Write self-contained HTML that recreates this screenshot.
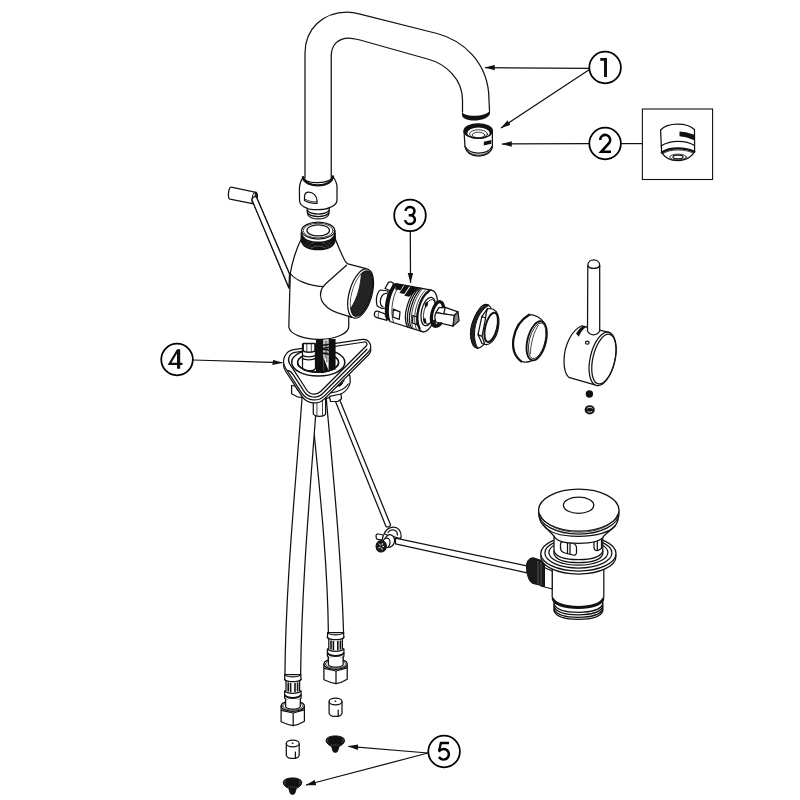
<!DOCTYPE html>
<html>
<head>
<meta charset="utf-8">
<title>Faucet exploded view</title>
<style>
html,body{margin:0;padding:0;background:#fff;font-family:"Liberation Sans",sans-serif;}
svg{display:block;}
.l{fill:none;stroke:#111;stroke-width:1.25;stroke-linecap:round;stroke-linejoin:round;}
.w{fill:#fff;stroke:#111;stroke-width:1.25;stroke-linecap:round;stroke-linejoin:round;}
.t{fill:none;stroke:#111;stroke-width:0.8;stroke-linecap:round;stroke-linejoin:round;}
.k{fill:#111;stroke:none;}
.kk{fill:#111;stroke:#111;stroke-width:1;stroke-linejoin:round;}
.c{fill:#fff;stroke:#000;stroke-width:1.75;}
.d{fill:none;stroke:#000;stroke-width:2.6;stroke-linecap:butt;stroke-linejoin:miter;}
.a{fill:none;stroke:#111;stroke-width:1.25;}
</style>
</head>
<body>
<svg width="800" height="800" viewBox="0 0 800 800">
<defs>
<marker id="ah" markerWidth="11" markerHeight="6" refX="9.8" refY="3" orient="auto" markerUnits="userSpaceOnUse"><path d="M0,0.3 L10.3,3 L0,5.7 Z" fill="#111"/></marker>
</defs>
<rect width="800" height="800" fill="#fff"/>

<!-- ===== SPOUT ===== -->
<g id="spout">
<path class="l" d="M305,178 L305,53 C305,29 323,12 347,12 C351,12 356,13 361,14.3 L437,33.5 C462,40 489,62 489,100 L489.5,111"/>
<path class="l" d="M331.25,181 L331.25,56 C331.25,45 338,38 349,38 C352,38 356,39 360,40 L427.5,59 C447,64 462.5,80 462.5,100 L462.5,112"/>
<path class="k" d="M462,111.5 C464,118 488,117 490,110 L490,113.5 C488,122 464,123 462,115.5 Z"/>
</g>

<!-- ===== AERATOR ===== -->
<g id="aerator">
<path class="w" d="M464,131 L465,147 C466,152 471,156 478.5,156 C486,156 491.5,152 492.4,147 L492.4,131 Z"/>
<path class="l" d="M465,146.5 C468,151.5 474,153 478.5,153 C484,153 490,151 492.4,146"/>
<path class="t" d="M466,149.5 C469,153.5 474,155 478.5,155 C484,155 489,153 491.5,149"/>
<ellipse class="w" cx="478.2" cy="131" rx="14.2" ry="7.2"/>
<path class="k" fill-rule="evenodd" d="M464,131 A14.2,7.2 0 0 1 492.4,131 A14.2,7.2 0 0 1 464,131 Z M467.3,133.2 A11.2,5.6 0 0 0 489.7,133.2 A11.2,5.6 0 0 0 467.3,133.2 Z"/>
<ellipse class="t" cx="478.5" cy="134" rx="9" ry="4.2"/>
<ellipse class="t" cx="478.5" cy="135" rx="6.3" ry="2.8"/>
<path class="k" d="M483.8,141.8 L491.3,140 L491.3,143.8 L483.8,145.6 Z"/>
</g>

<!-- ===== BOX with aerator detail ===== -->
<g id="box">
<rect x="642.4" y="109" width="70.2" height="70.5" fill="#fff" stroke="#111" stroke-width="1.1"/>
<path class="w" d="M660.6,130 C664,126 670,124 677.5,124 C685,124 691,126 694.5,129.5 L694.6,151.5 C693,155 688,160.5 678,160.7 C668,160.5 663.5,156 661.6,152 Z"/>
<path class="l" d="M661,146 C666,142.5 672,141.3 678,141.3 C684,141.3 690,142.5 694.5,145.5"/>
<path class="l" style="stroke-width:2.3" d="M661.8,152.5 C666,149.5 672,148.3 678,148.3 C684,148.3 690,149.5 694.3,151.8"/>
<path class="t" d="M663,153.5 C667,151 672,150 678,150 C684,150 689,151 693,153"/>
<ellipse class="t" cx="678" cy="157" rx="8.3" ry="2.9"/>
<ellipse class="l" cx="678" cy="157" rx="5" ry="1.8"/>
<path class="k" d="M679.5,131.6 L686,132.2 L694.3,134.8 L694.3,140.3 L686,137.3 L679.5,136.3 Z"/>
<path class="a" d="M621.5,143.6 L642.4,143.6"/>
</g>

<!-- ===== CALLOUTS ===== -->
<g id="callouts">
<path class="a" marker-end="url(#ah)" d="M589,68.3 L485,67.6"/>
<path class="a" marker-end="url(#ah)" d="M589.5,69.5 L501,128"/>
<path class="a" marker-end="url(#ah)" d="M589,143.6 L502,144"/>
<path class="a" marker-end="url(#ah)" d="M410.3,231.5 L410.5,282.8"/>
<path class="a" marker-end="url(#ah)" d="M193,360 L282.3,362.7"/>
<path class="a" marker-end="url(#ah)" d="M428,753 L348.3,746.4"/>
<path class="a" marker-end="url(#ah)" d="M428,753 L306,785"/>
<circle class="c" cx="605.1" cy="67.5" r="15.8"/>
<circle class="c" cx="605.1" cy="143.5" r="15.8"/>
<circle class="c" cx="410" cy="215.4" r="15.8"/>
<circle class="c" cx="177.05" cy="359.5" r="15.8"/>
<circle class="c" cx="444.1" cy="751.5" r="15.8"/>
<!-- 1 -->
<path class="k" d="M600.25,58 L607,58 L607,77 L604,77 L604,60.75 L600.25,60.75 Z"/>
<!-- 2 -->
<path class="d" style="stroke-width:2.5" d="M600.2,139.9 A5,5 0 1 1 609.2,142.9 L601.2,151.8 L611,151.8"/>
<!-- 3 -->
<path class="d" style="stroke-width:2.5" d="M405.5,210.9 A4.5,4.1 0 1 1 410,215.2 M408.7,215.2 L410,215.2 A4.9,4.45 0 1 1 405.1,220.2"/>
<!-- 4 -->
<path class="k" fill-rule="evenodd" d="M177,349.25 L180.2,349.25 L180.2,362.8 L182.5,362.8 L182.5,365 L180.2,365 L180.2,368.75 L177,368.75 L177,365 L167.6,365 Z M177,353.6 L177,362.8 L171.5,362.8 Z"/>
<!-- 5 -->
<path class="d" style="stroke-width:2.4" d="M449,743 L440.9,743 L439.1,750.8"/><path class="d" style="stroke-width:2.4;stroke-linejoin:round" d="M438.6,751.6 Q440.8,749 443.6,749 A5.3,5.3 0 1 1 439,756.95"/>
</g>

<!-- ===== COLLAR (spout base) ===== -->
<g id="collar">
<!-- threaded nipple -->
<path class="w" d="M307,207 L307.3,212 L308.2,215.5 C310,218 314,218.9 318.2,218.9 C322.5,218.9 326.5,218 328.2,215.5 L329.1,212 L329.4,207 Z"/>
<path class="l" d="M307.2,210.5 C310,213.3 314,214 318.2,214 C322.5,214 326.5,213.3 329.2,210.5"/>
<path class="l" d="M307.6,213 C310,215.8 314,216.5 318.2,216.5 C322.5,216.5 326.5,215.8 328.8,213"/>
<!-- collar body -->
<path class="w" d="M303,177.3 C300.5,181 299.4,185 299.4,189 L299.5,200 C299.5,204 303,207 307,208.2 C311,210.3 325,210.3 329.4,207.6 C334,206 337,203 337,200 L337,187 C337,183 335,179.5 333,176.5 C330,184 306,185 303,177.3 Z"/>
<path class="l" style="stroke-width:2.4" d="M303,177.3 C305,188 331,188.5 333,176.5"/>
<!-- D hole -->
<path class="w" d="M304.5,200.5 L304.5,196.5 C304.5,193.3 306.5,192 308.8,192 C313,192 317,196 317,200.5 L317,203.3 C313,203.8 308,202.8 304.5,200.5 Z"/>
<path class="t" d="M305.3,199.3 C309,201.3 313,202.2 316.5,201.8"/>
</g>

<!-- ===== LEVER ===== -->
<g id="lever">
<path class="w" d="M256.3,196.8 L289.5,274 L289,288 L252,200 Z"/>
<path class="w" d="M231.2,187.1 L256.3,192.4 L253.9,203.8 L229.9,199.1 C227.3,198.4 228.4,186.6 231.2,187.1 Z"/>
<ellipse cx="254.7" cy="198.1" rx="2.5" ry="5.8" transform="rotate(12 254.7 198.1)" fill="#222" stroke="#111" stroke-width="1.1"/>
<path d="M252.6,199.5 C252.6,196 253.6,193.5 255,193 C254.5,196 254.5,201 254,203.6 C253,203 252.6,201.5 252.6,199.5 Z" fill="#fff"/>
<path class="w" d="M256.3,196.8 L289.5,274 L289,288 L252,200 C252,198 254,196 256.3,196.8 Z"/>
</g>

<!-- ===== BODY ===== -->
<g id="body">
<path class="w" d="M301.3,239 C297,247 292,262 290.3,273.5 L288.8,327 A30,13 0 0 0 348.75,326 L348.75,316 L352,317.3 L372,290 L366,268.7 L348,263.8 C346.5,263.3 345.5,262 344.5,260 C341,253 338,246 335.3,239 Z"/>
<path class="l" d="M290.3,273.5 C295,280 308,285.5 323,286.6"/>
<path class="l" d="M346.5,265.25 L326,283.5 C321,288 319,293.5 321.5,300 C324,306 330,310 337,312.7 L351.75,317.3"/>
<!-- top threads -->
<path class="w" d="M301.4,231 L301.4,241 C303,247 310,249.6 318.2,249.6 C326.5,249.6 333.5,247 335,241 L335,231 Z"/>
<g class="l" style="stroke-width:1.4">
<path d="M301.4,233.5 C303,240 310,242.3 318.2,242.3 C326.5,242.3 333.5,240 335,233.5"/>
<path d="M301.4,236 C303,242.5 310,244.8 318.2,244.8 C326.5,244.8 333.5,242.5 335,236"/>
<path d="M301.4,238.5 C303,245 310,247.3 318.2,247.3 C326.5,247.3 333.5,245 335,238.5"/>
<path d="M301.4,240.3 C303,246.5 310,248.6 318.2,248.6 C326.5,248.6 333.5,246.5 335,240.3"/>
<path d="M301.4,234.7 C303,241.2 310,243.5 318.2,243.5 C326.5,243.5 333.5,241.2 335,234.7"/>
<path d="M301.4,237.2 C303,243.7 310,246 318.2,246 C326.5,246 333.5,243.7 335,237.2"/>
</g>
<ellipse class="w" cx="318.2" cy="230.6" rx="16.6" ry="8.4"/>
<ellipse class="t" cx="318.2" cy="230.6" rx="15" ry="7.3"/>
<ellipse class="l" cx="318.2" cy="230.4" rx="11.3" ry="5.6"/>
<!-- side port -->
<ellipse class="w" cx="360.6" cy="293.6" rx="11.3" ry="25.4" transform="rotate(16 360.6 293.6)"/>
<clipPath id="portclip"><ellipse cx="361.6" cy="293.6" rx="9.4" ry="23.4" transform="rotate(16 361.6 293.6)"/></clipPath>
<ellipse cx="361.6" cy="293.6" rx="9.4" ry="23.4" transform="rotate(16 361.6 293.6)" fill="#242424" stroke="#111" stroke-width="1.2"/>
<g clip-path="url(#portclip)">
<path d="M361.3,274 C360.8,285 357.5,298 351,308 L344,308 L344,274 Z" fill="#fff" stroke="#111" stroke-width="0.8"/>
</g>
</g>

<!-- ===== CARTRIDGE ===== -->
<g id="cartridge">
<!-- left lobes / pegs -->
<path class="w" d="M385,288.5 L388.3,282.6 C389.5,281.6 392,282.3 393.5,283.3 L391,291 Z"/>
<path class="w" d="M388,291 L380.5,290 C378,291 376.4,296 376.4,300 C376.4,303 376.6,305 377.5,306.3 L382,308.5 L388,308 Z"/>
<path class="l" d="M386.5,293.3 C383,293 380.5,297 380.3,301 C380.2,304 381,306 383,307"/>
<path class="w" d="M374.3,314.6 C374.3,312.5 375.5,311 377.2,311 L385,313.8 L387,320.3 L377.8,317.9 C375.5,317.5 374.3,316.5 374.3,314.6 Z"/>
<path class="t" d="M379.3,311.8 C378,313 377.7,316 378.8,318"/>
<!-- main body -->
<path class="w" d="M396,283.6 L431.5,290.1 L423,331.8 L390,321.5 C384.5,312 388,292 396,283.6 Z"/>
<!-- dark end band -->
<path class="k" d="M394.6,283.3 C386.5,291 382.3,308 386.6,319.3 L390.3,321.6 C386.8,310 390,292.5 398,284 Z"/>
<path class="t" d="M400,284.3 C392.8,293 389.5,311 393.6,322.6"/>
<!-- dark slots on top -->
<path class="k" d="M396.5,283.7 L403.6,285 L400.6,290.3 L395.2,289.5 C395.3,287.5 395.8,285.5 396.5,283.7 Z"/>
<path class="k" d="M404.6,285.2 L409.6,286.1 L404.3,294 L399.3,293 Z"/>
<path class="k" d="M410.6,286.3 L418.3,287.7 L415.5,291.5 L409,296.8 L404.3,295.8 Z"/>
<!-- groove rings -->
<path class="l" d="M417.5,287.6 C409.5,295 401.5,315 407.5,327"/>
<path class="l" d="M419.3,288 C411.5,295 403.5,316 409.5,327.6"/>
<path class="l" d="M421,288.3 C413.5,296 405.5,317 411.5,328.2"/>
<path class="t" d="M422.7,288.6 C415.5,296 407.5,317 413.3,328.8"/>
<!-- squares -->
<path class="l" d="M393.3,309.1 L400,311.8 L399.3,319.3 L392.9,317 Z"/>
<path class="l" d="M412.8,315.5 L417.2,317 L417,324.6 L412.5,323 Z"/>
<!-- flange -->
<ellipse class="w" cx="427.3" cy="311" rx="9.3" ry="21.2" transform="rotate(13 427.3 311)"/>
<path class="l" style="stroke-width:2.2" d="M428.8,291.3 C420,297 414,317 419.6,328.5"/>
<path class="t" d="M425.5,290.2 C417,297 411.5,318 416.5,329.5"/>
<ellipse class="l" cx="428.3" cy="311.5" rx="6.8" ry="14.5" transform="rotate(13 428.3 311.5)"/>
<ellipse class="t" cx="429.6" cy="311.8" rx="5.6" ry="12.5" transform="rotate(13 429.6 311.8)"/>
<path class="k" d="M424.5,304 L427.5,301 L428,305 L425.5,308 Z"/>
<path class="k" d="M422.8,319 L425.5,318 L426.5,323 L424,323.5 Z"/>
<!-- stem collar -->
<ellipse cx="437.5" cy="314" rx="5.6" ry="12.6" transform="rotate(13 437.5 314)" fill="#fff" stroke="#111" stroke-width="3.2"/>
<!-- stem -->
<path class="w" d="M438.9,307.6 L445.2,307.4 L458,311.9 L454.3,315.5 L436,312.6 Z"/>
<path class="w" d="M436,312.6 L454.3,315.5 L453.1,326.1 L436,322 C434.6,319 434.6,315.5 436,312.6 Z"/>
<path d="M454.3,315.5 L458,311.9 L459.1,320.9 L453.1,326.1 Z" fill="#888" stroke="#111" stroke-width="1.2" stroke-linejoin="round"/>
<path class="l" d="M445.2,307.4 L443.8,313.8"/>
<path class="l" style="stroke-width:2.4" d="M434.2,321 C434.5,325 436,327.3 438.5,326 C440,325 441,323.8 441.3,323.2"/>
</g>

<!-- ===== NUT ===== -->
<g id="nut">
<ellipse cx="481.8" cy="326.3" rx="9.6" ry="22.4" transform="rotate(14 481.8 326.3)" fill="#fff" stroke="#111" stroke-width="1.2"/>
<path d="M487,304.3 C477,308 468,326 471,339 C472.5,345 475,348 478,348.5 C476,345 474.5,341 474.5,334 C474.5,322 480,310 489,305.3 Z" fill="#222" stroke="#111" stroke-width="1"/>
<path class="w" d="M487.5,308.5 L492.8,309 C497,311 499.3,317 498.8,324 C498,336 492,344.5 486,344.6 L482,343.5 L478,334.6 L481.8,316.6 Z"/>
<path class="l" d="M481.8,316.6 L485.6,318 M478,334.6 L482,336.3 M487.5,308.5 C486.5,311 485.8,315 485.6,318 L482,336.3 L484.5,343.5"/>
<ellipse cx="491.2" cy="327.3" rx="5.9" ry="15" transform="rotate(14 491.2 327.3)" fill="#fff" stroke="#111" stroke-width="2"/>
</g>

<!-- ===== DOME RING ===== -->
<g id="dome">
<path class="w" d="M529.1,314.5 C535,314.5 541,318 543.7,322.6 L532.5,360.4 C528,362.5 524,362.5 521.2,361.4 C509,352 510,327 529.1,314.5 Z"/>
<path class="l" style="stroke-width:2.2" d="M529.1,314.7 C512,325 507.5,351 521.2,361.4"/>
<ellipse cx="536.7" cy="340.8" rx="9.2" ry="20" transform="rotate(14 536.7 340.8)" fill="#fff" stroke="#111" stroke-width="1.9"/>
<ellipse class="t" cx="537.2" cy="340.8" rx="7.8" ry="18.3" transform="rotate(14 537.2 340.8)"/>
<path class="t" d="M538.5,325 C534,331 530.5,344 530.3,354"/>
</g>

<!-- ===== HANDLE ===== -->
<g id="handle">
<path class="w" d="M581.8,325.8 C572,330 564,345 564,361 C564,369 565.5,374.5 568.75,377.4 L597.6,385.7 L610,332.7 Z"/>
<path class="k" d="M576,333.5 C578,330 580.5,327.3 583.3,325.9 L586.3,326.7 C583,329 580.5,332.5 578.8,336.8 Z"/>
<ellipse class="w" cx="602.6" cy="358.9" rx="12.4" ry="27.3" transform="rotate(13 602.6 358.9)"/>
<ellipse class="l" cx="603.9" cy="359.1" rx="11" ry="25.4" transform="rotate(13 603.9 359.1)"/>
<ellipse class="l" cx="587.3" cy="342.7" rx="1.8" ry="1.5"/>
<path class="w" d="M587.5,331 L587.8,265.5 C587.8,258 599.7,258 599.7,265.5 L599.7,331 C597,336 590,336 587.5,331 Z"/>
<path class="l" d="M587.8,265.8 C590,269.2 597.5,269.2 599.7,265.8"/>
<circle class="k" cx="589.4" cy="394" r="3.7"/>
<ellipse class="k" cx="589.7" cy="409.8" rx="5.1" ry="4.6"/>
<path d="M587,408.5 C588,407 591.5,407 592.5,408.5 M587.3,411 C588.5,412.5 591,412.5 592.3,411" fill="none" stroke="#fff" stroke-width="0.8"/>
</g>

<!-- ===== HOSES ===== -->
<g id="hoses">
<path class="w" d="M326.3,398 L326.9,406 C333.9,482 341.3,558 343.6,633.7 L328.4,633.7 C327.7,568 321,502 314.4,436 L311.5,406 Z"/>
<path class="w" d="M302.1,396 L301.9,400 C295.1,490 285.7,585 284.9,675.8 L300.6,675.8 C301.6,590 309.15,502 315.6,416 L316,400 Z"/>
<!-- pull rod -->
<path class="w" d="M334.5,399 L386,526.5 C387.5,527.5 390,526.8 390.6,525 L339.2,398.5 Z"/>
</g>

<!-- ===== BASE / TRIANGLE PLATE ===== -->
<g id="base">
<!-- stud -->
<path class="w" d="M313.3,398 L313.3,414 C315,417 324,417 325.6,414 L325.6,398 Z"/>
<path class="t" d="M316.9,400 L316.9,416 M322.5,400 L322.5,416"/>
<!-- lower washer / nut -->
<path class="w" d="M291.6,385.5 L291.6,393.8 L297.3,396.8 L305,398 L305,388 Z"/>
<path class="w" d="M296,380 C296,372 345,366 350,376 L350.2,382.3 C348,392 338,397.5 324,398.3 C308,398.5 297,392 296,387 Z"/>
<path class="l" d="M348.2,384 C345,389 338,392 330.5,392.8 M344,380.5 C342,383.5 338.5,386 334.9,387.5"/>
<path class="k" d="M338,385.5 C339.5,384.5 341,383.2 342,382 L343,383.5 C342,385 340.5,386.2 339,387 Z"/>
<path class="w" d="M329.5,396.3 L330.5,401.5 L338,401.3 L341.5,398.8 L341,394 Z"/>
<!-- plate -->
<g style="stroke-width:1.35">
<path class="w" d="M285.5,371.0 A12.0,12.0 0 0 1 293.8,352.6 L362.3,342.4 A7.3,7.3 0 0 1 368.6,354.7 L324.7,398.6 A14.8,14.8 0 0 1 301.8,396.2 Z"/>
<path class="w" d="M285.5,368.0 A12.0,12.0 0 0 1 293.8,349.6 L362.3,339.4 A7.3,7.3 0 0 1 368.6,351.7 L324.7,395.6 A14.8,14.8 0 0 1 301.8,393.2 Z"/>
<path class="l" d="M366.9,349.3 L322.7,393.5 A11.9,11.9 0 0 1 304.2,391.6 L293.2,374.6 Q290.6,370.6 287.8,370.6"/>
<path class="w" d="M289.7,363.8 A7.5,7.5 0 0 1 294.9,352.4 L364.5,342.0 A2.2,2.2 0 0 1 366.4,345.7 L320.6,391.5 A9.0,9.0 0 0 1 306.7,390.0 Z"/>
</g>
<!-- cup ring -->
<path class="w" d="M291.7,362.5 C291.7,355 303.5,349 318.2,349 C333,349 344.8,355 344.8,362.5 C344.8,370 333,376 318.2,376 C303.5,376 291.7,370 291.7,362.5 Z" style="stroke-width:1.5"/>
<ellipse class="w" cx="318.1" cy="362.5" rx="20.5" ry="9.6" style="stroke-width:1.5"/>
<!-- stems above -->
<path class="w" d="M302.5,344 L302.5,368.5 C304.5,371.8 313,371.8 315.5,368.5 L315.5,344 Z"/>
<path class="w" d="M303.2,343.5 L303.2,350.7 C305,352.6 313,352.6 315,350.7 L315,343.5 Z" style="stroke-width:1.5"/>
<path class="t" d="M306.8,344 L306.8,352 M311.3,344 L311.3,352"/>
<path class="l" d="M302.5,355.3 C304.5,357.3 313,357.3 315.5,355.3 M302.5,358.3 C304.5,360.3 313,360.3 315.5,358.3"/>
<path class="k" d="M315.9,339 L323.3,339 L323.3,373.2 L315.9,372.6 Z"/>
<path class="k" d="M328.6,339 L335.6,339 L335.6,369.5 L328.6,371.5 Z"/>
<path class="k" d="M323.3,357 L328.6,370.5 L323.3,372.5 Z"/>
<path class="t" d="M325.2,341 L325.2,358 M326.9,341 L326.9,362 M323.5,345 L327.5,345 M323.5,349 L327.5,349 M323.5,353 L327.5,353"/>
<!-- redraw front arcs of cup over the stems -->
<path class="l" style="stroke-width:1.5" d="M297.6,362.5 C297.6,367.8 306.8,372.1 318.1,372.1 C329.4,372.1 338.6,367.8 338.6,362.5"/>
</g>

<!-- ===== HORIZONTAL ROD + CONNECTOR ===== -->
<g id="hrod">
<path class="w" d="M395.5,538.2 L528,566.2 L527,572.8 L395.5,543.8 Z"/>
<!-- connector clip -->
<path class="w" d="M384,534 C386,529.5 389.5,527 393.5,527 C398,527 401.3,531 401.2,536.5 L400.5,538.5 L395,537 L389,535.5 Z"/>
<path class="l" d="M388,532.5 C389.5,530.3 392,529.5 394,530 C396.5,530.8 397.5,533 397.3,535"/>
<path class="w" d="M376,536 C376,534.5 377,533.8 378.2,534 L383.5,535 L382,540 L377.5,539.3 C376.5,539 376,537.5 376,536 Z"/>
<ellipse class="w" cx="389.5" cy="541" rx="5" ry="6.3" transform="rotate(12 389.5 541)"/>
<ellipse class="w" cx="386.3" cy="543" rx="3.6" ry="5" transform="rotate(12 386.3 543)"/>
<ellipse cx="381.2" cy="546.3" rx="5.2" ry="5.8" transform="rotate(12 381.2 546.3)" fill="#1a1a1a" stroke="#111" stroke-width="1"/>
<path d="M379,543.5 L380.5,545.5 M382.5,543 L382,545.3 M378.5,548 L380.5,547.3 M382,549.8 L381.8,547.8 M384,546.5 L382.5,546.5" stroke="#fff" stroke-width="0.9" fill="none"/>
</g>

<!-- ===== DRAIN ===== -->
<g id="drain">
<!-- threads -->
<path class="w" d="M554,598 L554,611 C556,616.5 566,619.3 578.4,619.3 C591,619.3 601,616.5 602.8,611 L602.8,598 Z"/>
<g class="l" style="stroke-width:1.3">
<path d="M554,604 C556,609.5 566,612.3 578.4,612.3 C591,612.3 601,609.5 602.8,604"/>
<path d="M554,606.5 C556,612 566,614.8 578.4,614.8 C591,614.8 601,612 602.8,606.5"/>
<path d="M554,609 C556,614.5 566,617.3 578.4,617.3 C591,617.3 601,614.5 602.8,609"/>
</g>
<!-- body -->
<path class="w" d="M552.2,565 L552.2,597 C554,603.5 566,606.5 578.4,606.5 C591,606.5 602,603.5 603.8,597 L603.8,565 Z"/>
<path class="l" style="stroke-width:2.6" d="M553,599.3 C555.5,605 566,607.6 578.4,607.6 C591,607.6 600.5,605 603,599.3"/>
<!-- side port -->
<path class="w" d="M541,566 L552.2,571 L552.2,589 L541,586 Z"/>
<path d="M526.5,566 C526.5,560.5 530,557.5 533.5,557.8 L544.5,561.5 L544.5,586.3 L533,583.5 C529,582.5 526.5,574 526.5,566 Z" fill="#1a1a1a" stroke="#111" stroke-width="1"/>
<path d="M541,562 L541,585 M538,561 L538,584.3" stroke="#777" stroke-width="0.7" fill="none"/>
<!-- flange -->
<ellipse class="w" cx="578.4" cy="556.5" rx="37.6" ry="17.5"/>
<ellipse class="w" cx="578.4" cy="553.5" rx="37.6" ry="17.5"/>
<ellipse class="l" cx="578.4" cy="553" rx="33.5" ry="15"/>
<ellipse class="l" cx="578.4" cy="552.5" rx="29.5" ry="12.7"/>
<!-- neck -->
<path class="w" d="M554,535 L554,554 C556,560 566,562.6 578.4,562.6 C591,562.6 601,560 602.8,554 L602.8,535 Z"/>
<path class="l" d="M554,551 C556,557 566,559.6 578.4,559.6 C591,559.6 601,557 602.8,551"/>
<path class="l" d="M560.5,544.5 C560.5,542 562.5,541 564.5,541.5 L573,543.5 C575.5,544.2 576.5,546 576.5,548 L576.5,552.5 C576.5,554.5 575,555.5 573,555 L565,553 C562,552.3 560.5,550 560.5,547.5 Z"/>
<path class="l" d="M567.5,542.5 L567.5,553.6 M570,543 L570,554.2"/>
<path class="l" d="M594,543.5 C594,541 595.5,539.5 597.5,539 L601.5,538 L601.5,548.5 L598,550.5 C595.5,551 594,549.5 594,547.5 Z"/>
<path class="l" d="M597.3,539.3 L597.3,550.3"/>
<!-- cap -->
<path class="w" d="M539,514 C539,518 540,522 542.8,524.5 L554,536 C556,541.5 566,543.3 578.4,543.3 C591,543.3 601,541.5 603.75,536 L615,526 C618,522 618.8,518 618.8,514 Z"/>
<path class="l" d="M542.8,524.5 C548,532.5 562,536.3 578.4,536.3 C595,536.3 610,532.5 615,526"/>
<ellipse class="w" cx="578.8" cy="513" rx="40.2" ry="21"/>
<ellipse class="w" cx="578.8" cy="510.2" rx="40.2" ry="21"/>
<path class="t" d="M540,514.5 C545,526 561,532.2 578.8,532.2 C597,532.2 613,526 617.6,514.5"/>
<ellipse class="l" cx="578.6" cy="505.3" rx="15.2" ry="8.1"/>
</g>

<!-- ===== HOSE ENDS ===== -->
<defs>
<g id="hend">
<!-- crimp -->
<path class="w" d="M284.9,674.5 L284.6,679.5 L286,681 L286,690.5 L284.6,691.5 L284.6,698 L285.6,699.5 L285.6,707 C288,710 298,710 300.3,707 L300.3,699.5 L301.1,698 L301.1,691.5 L299.6,690.5 L299.6,681 L301.1,679.5 L300.7,674.5 Z"/>
<path class="l" d="M284.9,674.5 C287,677.8 298.5,677.8 300.7,674.5 M284.7,679.3 C287,682.5 298.5,682.5 301,679.3 M284.7,691 C287,694 298.5,694 301,691"/>
<path class="l" style="stroke-width:2" d="M285,695.3 C287,698.8 298.5,698.8 300.7,695.3"/>
<path class="t" d="M285.6,698.7 C288,701.5 298,701.5 300.3,698.7"/>
<path d="M288.2,682.5 L288.2,691.5 M290.6,683 L290.6,692.3 M295,683 L295,692.3 M297.6,682.5 L297.6,691.5" stroke="#111" stroke-width="1.6" fill="none"/>
<!-- nut -->
<path class="w" d="M281.1,706 L281.1,721.7 C285,723.5 290,725 293.2,725.6 C297,725 301,723.3 304.4,721.2 L304.4,706 Z"/>
<path class="l" d="M281.3,710.3 L293.2,713 L304.3,709.8 M293.2,713 L293.2,725.5"/>
<path class="w" d="M281.1,706 C281.1,699.5 304.4,699.5 304.4,706 C304.4,713 281.1,713 281.1,706 Z"/>
<path class="t" d="M282.8,706 C282.8,700.8 302.7,700.8 302.7,706 C302.7,711.5 282.8,711.5 282.8,706 Z"/>
<path d="M285.6,699.5 L285.6,706.8 C288,709.8 298,709.8 300.3,706.8 L300.3,699.5 Z" fill="#fff" stroke="none"/>
<path class="l" d="M285.6,699.5 L285.6,706.8 C288,709.8 298,709.8 300.3,706.8 L300.3,699.5"/>
<!-- small cylinder -->
<path class="w" d="M286.3,743.5 L286.3,755.3 C287.5,759.5 298,759.5 299.2,755.3 L299.2,743.5 Z"/>
<ellipse class="w" cx="292.75" cy="743.5" rx="6.45" ry="3.3"/>
<ellipse class="k" cx="292.6" cy="743.3" rx="1" ry="0.7"/>
<path class="l" d="M295.4,752 L295.4,757.8"/>
<!-- cone -->
<path class="kk" d="M283.2,782.4 C283.2,776.4 301.8,776.4 301.8,782.4 C301.8,785.3 298.5,787.3 296.3,788.4 L294.6,793.6 C293.8,794.6 291.2,794.6 290.4,793.6 L288.8,788.4 C286.5,787.3 283.2,785.3 283.2,782.4 Z"/>
<path d="M285.5,780.5 C284.5,781.5 284.5,783.5 285.5,784.5 M299.3,780.5 C300.3,781.5 300.3,783.5 299.3,784.5" stroke="#777" stroke-width="0.7" fill="none"/>
<path d="M288.3,787 L296.8,787" stroke="#999" stroke-width="0.6" stroke-dasharray="1 1" fill="none"/>
</g>
</defs>
<use href="#hend"/>
<use href="#hend" transform="translate(42.8 -42)"/>


</svg>
</body>
</html>
